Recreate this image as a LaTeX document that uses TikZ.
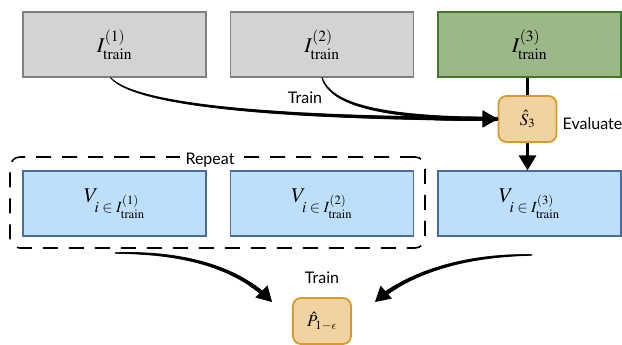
\documentclass[tikz,border=0pt]{standalone}
\usepackage[no-math]{fontspec}
\usepackage{mathptmx}
\DeclareSymbolFont{cmletters}{OML}{cmm}{m}{it}
\DeclareMathSymbol{\lunateps}{\mathord}{cmletters}{"0F}
\newfontfamily\lato{Lato}
\usetikzlibrary{arrows.meta,decorations.markings}
\definecolor{grayfill}{HTML}{D3D3D3}
\definecolor{grayline}{HTML}{808080}
\definecolor{greenfill}{HTML}{9CB888}
\definecolor{greenline}{HTML}{3F7A24}
\definecolor{bluefill}{HTML}{BEDFFB}
\definecolor{blueline}{HTML}{4B6D9B}
\definecolor{orangefill}{HTML}{F1D3A2}
\definecolor{orangeline}{HTML}{D89A2B}
\tikzset{
  box/.style={line width=1.2pt, minimum width=183pt, minimum height=65pt, inner sep=0pt, font=\fontsize{21}{25}\selectfont},
  graybox/.style={box, fill=grayfill, draw=grayline},
  greenbox/.style={box, fill=greenfill, draw=greenline, line width=1.6pt},
  bluebox/.style={box, fill=bluefill, draw=blueline},
  orangebox/.style={fill=orangefill, draw=orangeline, line width=1.8pt, rounded corners=8pt, minimum width=58pt, minimum height=46pt, inner sep=0pt, font=\fontsize{17}{20}\selectfont},
  lbl/.style={font=\lato\fontsize{16}{19}\selectfont, inner sep=1pt},
  repbox/.style={draw=black, line width=1.6pt, dash pattern=on 15pt off 11pt, rounded corners=10pt, minimum width=415pt, minimum height=91pt, inner sep=0pt},
  bigtip/.style={-{Triangle[length=15pt,width=17pt]}},
  taper/.style={line width=0.7pt, bigtip,
    postaction={decorate, decoration={markings,
      mark=between positions 0 and -6pt step 0.7pt with {
        \pgfmathsetmacro\myf{\pgfkeysvalueof{/pgf/decoration/mark info/distance from start}/\pgfdecoratedpathlength}
        \pgfmathsetmacro\myr{0.35+1.75*(\myf)^0.35}
        \fill (0,0) circle[radius=\myr pt];
      }}}},
}
\begin{document}
\begin{tikzpicture}[x=1pt,y=-1pt]
\useasboundingbox (0,0) rectangle (622,345);
% dashed repeat group
\node[repbox] (rep) at (217.5,202.5) {};
\node[lbl, fill=white, inner xsep=6pt] (replbl) at (210,160) {Repeat};
% top row
\node[graybox] (b1) at (114.5,44.5) {$I^{(1)}_{\mathrm{train}}$};
\node[graybox] (b2) at (322,44.5) {$I^{(2)}_{\mathrm{train}}$};
\node[greenbox] (b3) at (529.5,44.5) {$I^{(3)}_{\mathrm{train}}$};
% bottom row
\node[bluebox] (v1) at (114.5,203.5) {$V_{i\;\in\; I^{(1)}_{\mathrm{train}}}$};
\node[bluebox] (v2) at (322,203.5) {$V_{i\;\in\; I^{(2)}_{\mathrm{train}}}$};
\node[bluebox] (v3) at (529.5,203.5) {$V_{i\;\in\; I^{(3)}_{\mathrm{train}}}$};
% small nodes
\node[orangebox] (s3) at (527.5,119) {$\hat{S}_3$};
\node[orangebox] (p) at (322,321) {$\hat{P}_{1-\lunateps}$};
% labels
\node[lbl] (eval) at (592.5,124) {Evaluate};
\node[lbl] (train1) at (305,98) {Train};
\node[lbl] (train2) at (322,278) {Train};
% connectors top
\draw[taper] ([xshift=-4pt]b1.south) .. controls (130,100) and (230,118) .. (s3.west);
\draw[taper] (b2.south) .. controls (330,102) and (370,118) .. (s3.west);
\draw[line width=3pt] (b3.south -| s3.north) -- (s3.north);
\draw[line width=3pt, bigtip] (s3.south) -- (s3.south |- v3.north);
% connectors bottom
\coordinate (l0) at (115,253);
\coordinate (lt) at (272,302);
\coordinate (r0) at (532,255);
\coordinate (rt) at (375,302);
\draw[taper] (l0) .. controls (200,252) and (245,275) .. (lt);
\draw[taper] (r0) .. controls (450,255) and (400,280) .. (rt);
\end{tikzpicture}
\end{document}
